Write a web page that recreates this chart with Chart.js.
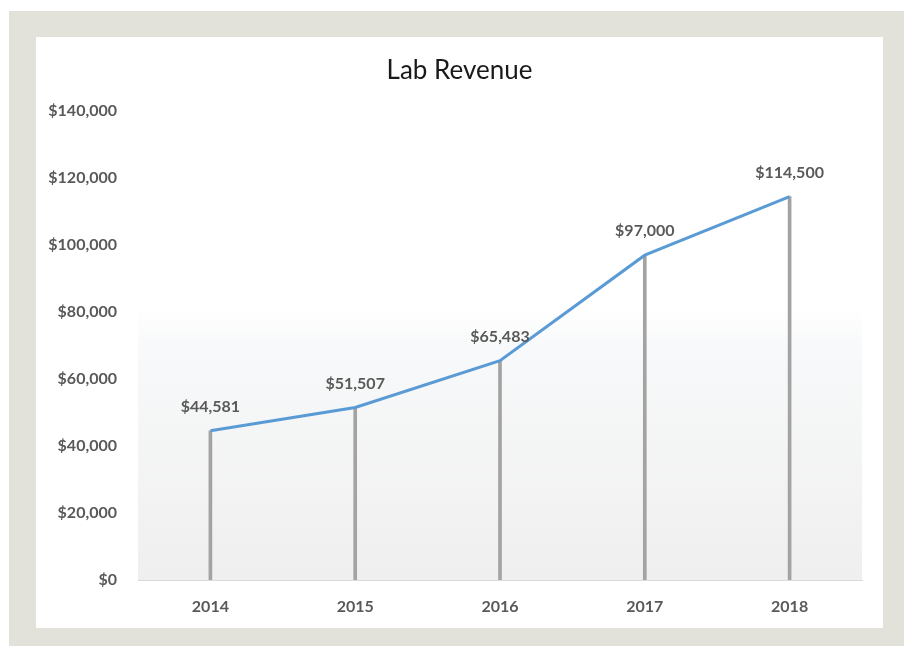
<!DOCTYPE html>
<html>
<head>
<meta charset="utf-8">
<script src="https://cdn.jsdelivr.net/npm/chart.js@4/dist/chart.umd.min.js"></script>
<style>
  html, body { margin: 0; padding: 0; background: #ffffff; }
  #frame { position: absolute; left: 9px; top: 11px; width: 895px; height: 635px; background: #e3e2da; }
  #panel { position: absolute; left: 36px; top: 37px; width: 847px; height: 591px; background: #ffffff; }
</style>
</head>
<body>
<div id="frame"></div>
<div id="panel"><canvas id="revenueChart" width="847" height="591"></canvas></div>
<script>
// chart data
const years = ['2014', '2015', '2016', '2017', '2018'];
const revenue = [44581, 51507, 65483, 97000, 114500];
const yTicks = [0, 20000, 40000, 60000, 80000, 100000, 120000, 140000];

const money = v => '$' + Number(v).toLocaleString('en-US');
const labelColor = '#595959';
const fontFamily = 'Lato, "Open Sans", sans-serif';

// soft grey wash behind the plot, like the original
const plotBackground = {
  id: 'plotBackground',
  beforeDraw(chart) {
    const { ctx, chartArea } = chart;
    const g = ctx.createLinearGradient(0, chartArea.top, 0, chartArea.bottom);
    g.addColorStop(0, '#ffffff');
    g.addColorStop(0.42, '#ffffff');
    g.addColorStop(0.5, '#f8f9fa');
    g.addColorStop(1, '#efefef');
    ctx.save();
    ctx.fillStyle = g;
    ctx.fillRect(chartArea.left, chartArea.top, chartArea.right - chartArea.left, chartArea.bottom - chartArea.top);
    ctx.restore();
  }
};

// value labels above each point
const pointLabels = {
  id: 'pointLabels',
  afterDatasetsDraw(chart) {
    const meta = chart.getDatasetMeta(1);
    const ctx = chart.ctx;
    ctx.save();
    ctx.font = 'bold 16px ' + fontFamily;
    ctx.fillStyle = labelColor;
    ctx.textAlign = 'center';
    ctx.textBaseline = 'middle';
    meta.data.forEach((pt, i) => {
      ctx.fillText(money(revenue[i]), pt.x, pt.y - 24);
    });
    ctx.restore();
  }
};

new Chart(document.getElementById('revenueChart'), {
  data: {
    labels: years,
    datasets: [
      {
        type: 'bar',
        label: 'drop',
        data: revenue,
        backgroundColor: '#a3a3a3',
        barThickness: 3,
        order: 2
      },
      {
        type: 'line',
        label: 'Revenue',
        data: revenue,
        borderColor: '#5b9bd5',
        borderWidth: 3,
        pointRadius: 0,
        tension: 0,
        order: 1
      }
    ]
  },
  options: {
    responsive: false,
    animation: false,
    devicePixelRatio: 1,
    layout: { padding: 0 },
    plugins: {
      legend: { display: false },
      tooltip: { enabled: false },
      title: {
        display: true,
        text: 'Lab Revenue',
        color: '#1a1a1a',
        font: { family: fontFamily, size: 26, weight: 'normal' },
        padding: { top: 18, bottom: 25 }
      }
    },
    scales: {
      x: {
        offset: true,
        grid: { display: false, drawTicks: false },
        border: { display: true, color: '#d9d9d9', width: 1 },
        ticks: {
          color: labelColor,
          font: { family: fontFamily, size: 16, weight: 'bold' },
          padding: 17
        },
        afterFit(scale) { scale.height = 48; }
      },
      y: {
        min: 0,
        max: 140000,
        grid: { display: false, drawTicks: false },
        border: { display: false },
        afterBuildTicks(scale) { scale.ticks = yTicks.map(v => ({ value: v })); },
        ticks: {
          color: labelColor,
          font: { family: fontFamily, size: 16, weight: 'bold' },
          padding: 21,
          callback: v => money(v)
        },
        afterFit(scale) { scale.width = 102; }
      },
      // empty right-hand margin so the plot stops short of the panel edge
      yRight: {
        position: 'right',
        min: 0,
        max: 140000,
        grid: { display: false, drawTicks: false },
        border: { display: false },
        ticks: { display: false },
        afterFit(scale) { scale.width = 21; }
      }
    }
  },
  plugins: [plotBackground, pointLabels]
});
</script>
</body>
</html>
